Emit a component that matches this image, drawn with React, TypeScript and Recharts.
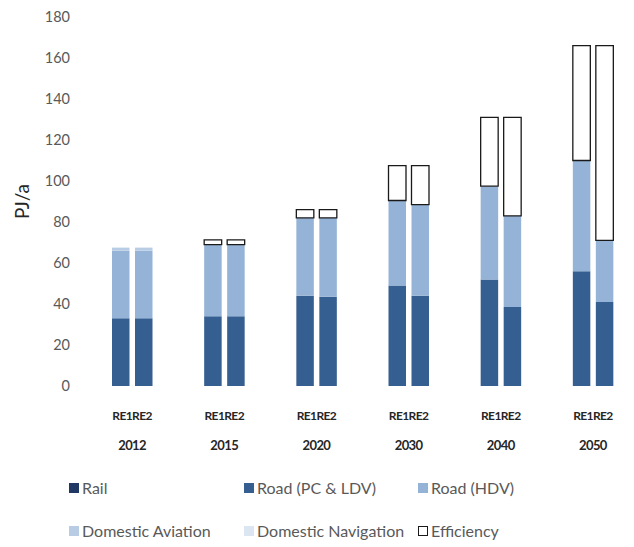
import { Bar, BarChart, Label, XAxis, YAxis } from "recharts";

const years = ["2012", "2015", "2020", "2030", "2040", "2050"];
const scenarios = ["RE1", "RE2"];

const seriesNames = [
  "Rail",
  "Road (PC & LDV)",
  "Road (HDV)",
  "Domestic Aviation",
  "Domestic Navigation",
  "Efficiency",
];
const seriesKeys = ["rail", "pc", "hdv", "aviation", "navigation", "efficiency"];
const seriesColors = ["#203864", "#365f91", "#95b3d7", "#b8cce4", "#dce6f2", "#ffffff"];

// PJ/a per year, scenario RE1
const railRE1 = [0, 0, 0, 0, 0, 0];
const pcRE1 = [33, 34, 44, 49, 52, 56];
const hdvRE1 = [33, 35, 38, 41.5, 45.5, 54];
const aviationRE1 = [1.5, 0, 0, 0, 0, 0];
const navigationRE1 = [0, 0, 0, 0, 0, 0];
const efficiencyRE1 = [0, 2.3, 4, 17, 33.5, 56];

// PJ/a per year, scenario RE2
const railRE2 = [0, 0, 0, 0, 0, 0];
const pcRE2 = [33, 34, 43.5, 44, 38.5, 41];
const hdvRE2 = [33, 35, 38.5, 44.5, 44.5, 30];
const aviationRE2 = [1.5, 0, 0, 0, 0, 0];
const navigationRE2 = [0, 0, 0, 0, 0, 0];
const efficiencyRE2 = [0, 2.3, 4, 19, 48, 95];

const yTicks = [0, 20, 40, 60, 80, 100, 120, 140, 160, 180];

const valuesByScenario: Record<string, number[][]> = {
  RE1: [railRE1, pcRE1, hdvRE1, aviationRE1, navigationRE1, efficiencyRE1],
  RE2: [railRE2, pcRE2, hdvRE2, aviationRE2, navigationRE2, efficiencyRE2],
};

const data = years.map((year, i) => {
  const row: Record<string, string | number> = { year };
  scenarios.forEach((s) => {
    seriesKeys.forEach((key, k) => {
      row[`${key}_${s}`] = valuesByScenario[s][k][i];
    });
  });
  return row;
});

const FONT = "Lato, 'Open Sans', sans-serif";

function YearTick({ x, y, payload }: any) {
  return (
    <g>
      <text
        x={x}
        y={y + 26}
        textAnchor="middle"
        fontSize={12}
        fontWeight={700}
        fill="#262626"
        fontFamily={FONT}
        letterSpacing={-0.6}
      >
        {scenarios.join("")}
      </text>
      <text
        x={x}
        y={y + 56}
        textAnchor="middle"
        fontSize={13}
        fontWeight={700}
        fill="#262626"
        fontFamily={FONT}
        letterSpacing={-0.6}
      >
        {payload.value}
      </text>
    </g>
  );
}

function UnitLabel({ viewBox }: any) {
  const cx = viewBox.x + 21;
  const cy = viewBox.y + viewBox.height / 2;
  return (
    <text
      x={cx}
      y={cy}
      transform={`rotate(-90 ${cx} ${cy})`}
      textAnchor="middle"
      dominantBaseline="central"
      fontSize={19}
      fill="#262626"
      fontFamily={FONT}
    >
      PJ/a
    </text>
  );
}

const legendPos = [
  [69, 488],
  [244, 488],
  [418, 488],
  [69, 531],
  [244, 531],
  [418, 531],
];

export default function App() {
  return (
    <div
      style={{
        position: "absolute",
        left: 0,
        top: 0,
        width: 634,
        height: 547,
        overflow: "hidden",
        background: "#fff",
        fontFamily: FONT,
      }}
    >
      <BarChart
        width={640}
        height={456}
        data={data}
        margin={{ top: 17, right: 1, bottom: 0, left: 0 }}
        barGap={5.5}
        barSize={17.5}
      >
        <XAxis
          dataKey="year"
          axisLine={false}
          tickLine={false}
          height={70}
          interval={0}
          tick={<YearTick />}
        />
        <YAxis
          width={86}
          domain={[0, 180]}
          ticks={yTicks}
          axisLine={false}
          tickLine={false}
          tickSize={0}
          tickMargin={16}
          tick={{ fontSize: 14.5, fill: "#595959", fontFamily: FONT }}
        >
          <Label content={<UnitLabel />} />
        </YAxis>
        {scenarios.map((s) =>
          seriesKeys.map((key, k) => (
            <Bar
              key={`${key}_${s}`}
              dataKey={`${key}_${s}`}
              stackId={s}
              fill={seriesColors[k]}
              stroke={key === "efficiency" ? "#1a1a1a" : "none"}
              strokeWidth={key === "efficiency" ? 1.3 : 0}
              isAnimationActive={false}
            />
          ))
        )}
      </BarChart>
      {seriesNames.map((name, k) => (
        <div
          key={name}
          style={{
            position: "absolute",
            left: legendPos[k][0],
            top: legendPos[k][1] - 10,
            display: "flex",
            alignItems: "center",
            fontSize: 16,
            lineHeight: "20px",
            color: "#595959",
            whiteSpace: "nowrap",
          }}
        >
          <span
            style={{
              display: "inline-block",
              width: 10,
              height: 10,
              marginRight: 3,
              background: seriesColors[k],
              border: seriesKeys[k] === "efficiency" ? "1px solid #1a1a1a" : "none",
              boxSizing: "border-box",
            }}
          />
          {name}
        </div>
      ))}
    </div>
  );
}
